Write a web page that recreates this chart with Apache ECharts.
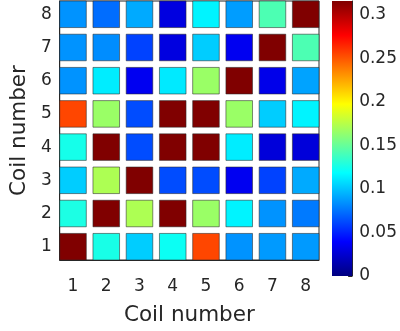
<!DOCTYPE html>
<html>
<head>
<meta charset="utf-8">
<script src="https://cdn.jsdelivr.net/npm/echarts@6/dist/echarts.min.js"></script>
<style>
  html, body { margin: 0; padding: 0; background: #fff; }
  #chart { width: 400px; height: 331px; }
</style>
</head>
<body>
<div id="chart"></div>
<script>
// coil numbers on both axes
const coils = [1, 2, 3, 4, 5, 6, 7, 8];
// coupling values, one array per row (row = y coil), columns = x coil 1..8
const row1 = [0.316, 0.126, 0.103, 0.122, 0.255, 0.085, 0.087, 0.087];
const row2 = [0.127, 0.316, 0.172, 0.316, 0.166, 0.115, 0.085, 0.077];
const row3 = [0.103, 0.172, 0.316, 0.063, 0.063, 0.035, 0.060, 0.092];
const row4 = [0.125, 0.316, 0.063, 0.316, 0.316, 0.113, 0.028, 0.028];
const row5 = [0.255, 0.166, 0.063, 0.316, 0.316, 0.166, 0.103, 0.115];
const row6 = [0.085, 0.113, 0.035, 0.112, 0.166, 0.316, 0.033, 0.090];
const row7 = [0.085, 0.083, 0.060, 0.030, 0.103, 0.035, 0.316, 0.142];
const row8 = [0.085, 0.073, 0.092, 0.030, 0.115, 0.088, 0.142, 0.316];
// colour limits
const cMin = 0;
const cMax = 0.316;

const rows = [row1, row2, row3, row4, row5, row6, row7, row8];
const cells = [];
rows.forEach((r, yi) => {
  r.forEach((v, xi) => {
    cells.push([coils[xi], coils[yi], v]);
  });
});

// jet colormap
const jet = ['#000080', '#0000ff', '#0080ff', '#00ffff', '#80ff80',
             '#ffff00', '#ff8000', '#ff0000', '#800000'];

const txt = '#262626';
const font = 'DejaVu Sans';

const chart = echarts.init(document.getElementById('chart'));
const option = {
  animation: false,
  backgroundColor: '#fff',
  textStyle: { fontFamily: font },
  grid: [
    { left: 45, top: 1, width: 274, height: 275, show: true, borderColor: txt, borderWidth: 1 },
    { left: 332, top: 1, width: 22, height: 275 },
  ],
  visualMap: {
    show: false,
    seriesIndex: 0,
    dimension: 2,
    min: cMin,
    max: cMax,
    inRange: { color: jet },
  },
  xAxis: [
    {
      gridIndex: 0,
      type: 'value',
      min: 0.6,
      max: 8.4,
      name: 'Coil number',
      nameLocation: 'middle',
      nameGap: 44,
      nameTextStyle: { color: txt, fontSize: 21.5, fontFamily: font },
      splitLine: { show: false },
      axisLine: { show: true, lineStyle: { color: txt, width: 1 } },
      axisTick: { show: true, inside: true, length: 4, customValues: coils, lineStyle: { color: txt } },
      axisLabel: { color: txt, fontSize: 17, margin: 18, customValues: coils },
    },
    {
      gridIndex: 1,
      type: 'category',
      data: ['c'],
      show: false,
    },
  ],
  yAxis: [
    {
      gridIndex: 0,
      type: 'value',
      min: 0.6,
      max: 8.4,
      name: 'Coil number',
      nameLocation: 'middle',
      nameGap: 24,
      nameTextStyle: { color: txt, fontSize: 21.5, fontFamily: font },
      splitLine: { show: false },
      axisLine: { show: true, lineStyle: { color: txt, width: 1 } },
      axisTick: { show: true, inside: true, length: 4, customValues: coils, lineStyle: { color: txt } },
      axisLabel: { color: txt, fontSize: 17, margin: 8, customValues: coils },
    },
    {
      gridIndex: 1,
      type: 'value',
      position: 'right',
      min: cMin,
      max: cMax,
      interval: 0.05,
      splitLine: { show: false },
      axisLine: { show: true, lineStyle: { color: txt, width: 1 } },
      axisTick: { show: true, inside: true, length: 4, lineStyle: { color: txt } },
      axisLabel: { color: txt, fontSize: 17, margin: 7, showMaxLabel: false },
    },
  ],
  series: [
    {
      type: 'custom',
      xAxisIndex: 0,
      yAxisIndex: 0,
      data: cells,
      encode: { x: 0, y: 1 },
      renderItem: function (params, api) {
        const p = api.coord([api.value(0), api.value(1)]);
        const s = api.size([0.8, 0.8]);
        return {
          type: 'rect',
          shape: { x: p[0] - s[0] / 2, y: p[1] - s[1] / 2, width: s[0], height: s[1] },
          style: { fill: api.visual('color'), stroke: 'rgba(40,40,40,0.55)', lineWidth: 1 },
        };
      },
    },
    {
      type: 'bar',
      xAxisIndex: 1,
      yAxisIndex: 1,
      barWidth: '100%',
      data: [cMax],
      itemStyle: {
        color: new echarts.graphic.LinearGradient(0, 1, 0, 0,
          jet.map((c, i) => ({ offset: i / (jet.length - 1), color: c }))),
      },
    },
  ],
};
chart.setOption(option);
</script>
</body>
</html>
